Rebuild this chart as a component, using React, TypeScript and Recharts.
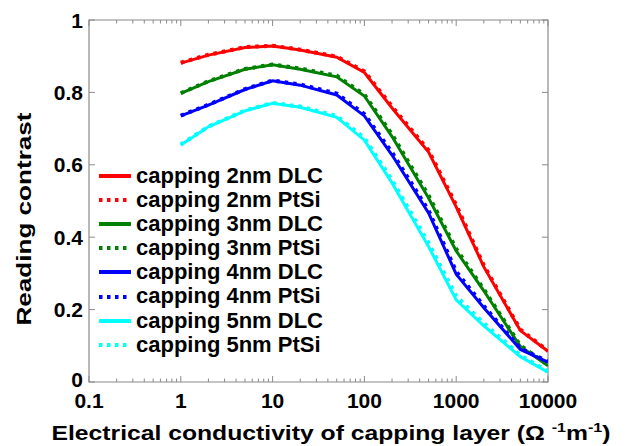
import { LineChart, Line, XAxis, YAxis, Legend, ReferenceArea } from 'recharts'

// electrical conductivity of capping layer (1/(ohm m))
const CONDUCTIVITY = [1, 2, 5, 10, 20, 50, 100, 200, 500, 1000, 2000, 5000, 10000]

// reading contrast per capping thickness / material
const DLC_2NM = [0.881, 0.903, 0.924, 0.928, 0.917, 0.897, 0.855, 0.757, 0.635, 0.484, 0.318, 0.142, 0.085]
const PTSI_2NM = [0.882, 0.904, 0.925, 0.929, 0.918, 0.899, 0.858, 0.761, 0.640, 0.489, 0.322, 0.145, 0.086]
const DLC_3NM = [0.797, 0.830, 0.864, 0.876, 0.864, 0.843, 0.790, 0.678, 0.508, 0.362, 0.252, 0.098, 0.045]
const PTSI_3NM = [0.798, 0.831, 0.865, 0.877, 0.866, 0.846, 0.794, 0.684, 0.515, 0.368, 0.256, 0.101, 0.047]
const DLC_4NM = [0.735, 0.765, 0.808, 0.832, 0.820, 0.793, 0.735, 0.627, 0.467, 0.298, 0.205, 0.090, 0.055]
const PTSI_4NM = [0.736, 0.766, 0.809, 0.833, 0.822, 0.797, 0.740, 0.634, 0.474, 0.305, 0.210, 0.093, 0.056]
const DLC_5NM = [0.655, 0.705, 0.749, 0.770, 0.759, 0.731, 0.668, 0.550, 0.374, 0.227, 0.155, 0.070, 0.027]
const PTSI_5NM = [0.656, 0.706, 0.750, 0.771, 0.761, 0.735, 0.674, 0.558, 0.384, 0.237, 0.162, 0.074, 0.029]

const X_MAJOR = [0.1, 1, 10, 100, 1000, 10000]
const X_LABELS = ['0.1', '1', '10', '100', '1000', '10000']
const Y_TICKS = [0, 0.2, 0.4, 0.6, 0.8, 1]
const Y_LABELS = ['0', '0.2', '0.4', '0.6', '0.8', '1']

const SERIES = [
  { key: 'dlc2', name: 'capping 2nm DLC', color: '#ff0000', dotted: false, values: DLC_2NM },
  { key: 'ptsi2', name: 'capping 2nm PtSi', color: '#ff0000', dotted: true, values: PTSI_2NM },
  { key: 'dlc3', name: 'capping 3nm DLC', color: '#008000', dotted: false, values: DLC_3NM },
  { key: 'ptsi3', name: 'capping 3nm PtSi', color: '#008000', dotted: true, values: PTSI_3NM },
  { key: 'dlc4', name: 'capping 4nm DLC', color: '#0000ff', dotted: false, values: DLC_4NM },
  { key: 'ptsi4', name: 'capping 4nm PtSi', color: '#0000ff', dotted: true, values: PTSI_4NM },
  { key: 'dlc5', name: 'capping 5nm DLC', color: '#00ffff', dotted: false, values: DLC_5NM },
  { key: 'ptsi5', name: 'capping 5nm PtSi', color: '#00ffff', dotted: true, values: PTSI_5NM },
]

const data = CONDUCTIVITY.map((x, i) => {
  const row: Record<string, number> = { x }
  SERIES.forEach(s => { row[s.key] = s.values[i] })
  return row
})

// minor log ticks 2..9 in every decade, plus the decades
const xTicks: number[] = []
X_MAJOR.forEach((d, i) => {
  xTicks.push(d)
  if (i < X_MAJOR.length - 1) for (let k = 2; k <= 9; k++) xTicks.push(+(d * k).toPrecision(3))
})

const W = 630
const H = 446
const Y_AXIS_W = 89
const X_AXIS_H = 64
const M = { top: 20, right: 82, bottom: 0, left: 0 }
const PLOT_W = W - Y_AXIS_W - M.right
const PLOT_H = H - M.top - X_AXIS_H
const FONT = 'Arial, "Liberation Sans", sans-serif'
const BOX = '#8a8a8a'

const XTick = (props: any) => {
  const { x, y, payload } = props
  const idx = X_MAJOR.findIndex(v => Math.abs(v - payload.value) < 1e-9)
  const len = idx >= 0 ? 6 : 3.5
  return (
    <g>
      <line x1={x} y1={y} x2={x} y2={y - len} stroke={BOX} />
      <line x1={x} y1={y - PLOT_H} x2={x} y2={y - PLOT_H + len} stroke={BOX} />
      {idx >= 0 && (
        <text x={x} y={y + 26} textAnchor="middle" fontFamily={FONT} fontWeight="bold" fontSize={21} fill="#000">
          {X_LABELS[idx]}
        </text>
      )}
    </g>
  )
}

const YTick = (props: any) => {
  const { x, y, payload } = props
  const idx = Y_TICKS.findIndex(v => Math.abs(v - payload.value) < 1e-9)
  // the bottom "0" sits a touch higher so it clears the "0.1" below it
  const dy = idx === 0 ? 5 : 7.5
  return (
    <g>
      <line x1={x} y1={y} x2={x + 6} y2={y} stroke={BOX} />
      <line x1={x + PLOT_W - 6} y1={y} x2={x + PLOT_W} y2={y} stroke={BOX} />
      <text x={x - 6} y={y + dy} textAnchor="end" fontFamily={FONT} fontWeight="bold" fontSize={21} fill="#000">
        {Y_LABELS[idx]}
      </text>
    </g>
  )
}

const LegendBox = () => (
  <div style={{ fontFamily: FONT, fontWeight: 'bold', fontSize: 22, lineHeight: '24.1px', color: '#000' }}>
    {SERIES.map(s => (
      <div key={s.key} style={{ display: 'flex', alignItems: 'center', height: 24.1, whiteSpace: 'nowrap' }}>
        <svg width={34} height={10} style={{ marginRight: 4 }}>
          <line x1={1} y1={5} x2={33} y2={5} stroke={s.color} strokeWidth={4}
            strokeDasharray={s.dotted ? '3.5 4.5' : undefined} />
        </svg>
        {s.name}
      </div>
    ))}
  </div>
)

export default function App() {
  return (
    <div style={{ position: 'absolute', left: 0, top: 0, width: W, height: H, background: '#fff' }}>
      <LineChart width={W} height={H} data={data} margin={M}>
        <ReferenceArea x1={0.1} x2={10000} y1={0} y2={1} fill="none" stroke={BOX} strokeWidth={1.2} />
        <XAxis dataKey="x" type="number" scale="log" domain={[0.1, 10000]} allowDataOverflow
          ticks={xTicks} interval={0} height={X_AXIS_H} axisLine={false} tickLine={false}
          tickSize={0} tickMargin={0} tick={(p: any) => <XTick {...p} />} />
        <YAxis type="number" domain={[0, 1]} ticks={Y_TICKS} interval={0} width={Y_AXIS_W}
          axisLine={false} tickLine={false} tickSize={0} tickMargin={0} tick={(p: any) => <YTick {...p} />} />
        <Legend layout="vertical" align="center" verticalAlign="middle" content={<LegendBox />}
          wrapperStyle={{ left: 98, top: 164, width: 'auto', height: 'auto' }} />
        {SERIES.map(s => (
          <Line key={s.key} dataKey={s.key} name={s.name} stroke={s.color}
            strokeWidth={s.dotted ? 4 : 3} strokeDasharray={s.dotted ? '3.5 5' : undefined}
            dot={false} activeDot={false} isAnimationActive={false} />
        ))}
      </LineChart>
      <svg width={W} height={H} style={{ position: 'absolute', left: 0, top: 0, pointerEvents: 'none' }}>
        <text transform="translate(31,219) rotate(-90)" textAnchor="middle" fontFamily={FONT}
          fontWeight="bold" fontSize={21} textLength={213} lengthAdjust="spacingAndGlyphs">
          Reading contrast
        </text>
        <text x={331} y={440} textAnchor="middle" fontFamily={FONT} fontWeight="bold" fontSize={20}
          textLength={559} lengthAdjust="spacingAndGlyphs">
          Electrical conductivity of capping layer (Ω <tspan dy={-8} fontSize={13}>-1</tspan>
          <tspan dy={8}>m</tspan><tspan dy={-8} fontSize={13}>-1</tspan><tspan dy={8}>)</tspan>
        </text>
      </svg>
    </div>
  )
}
